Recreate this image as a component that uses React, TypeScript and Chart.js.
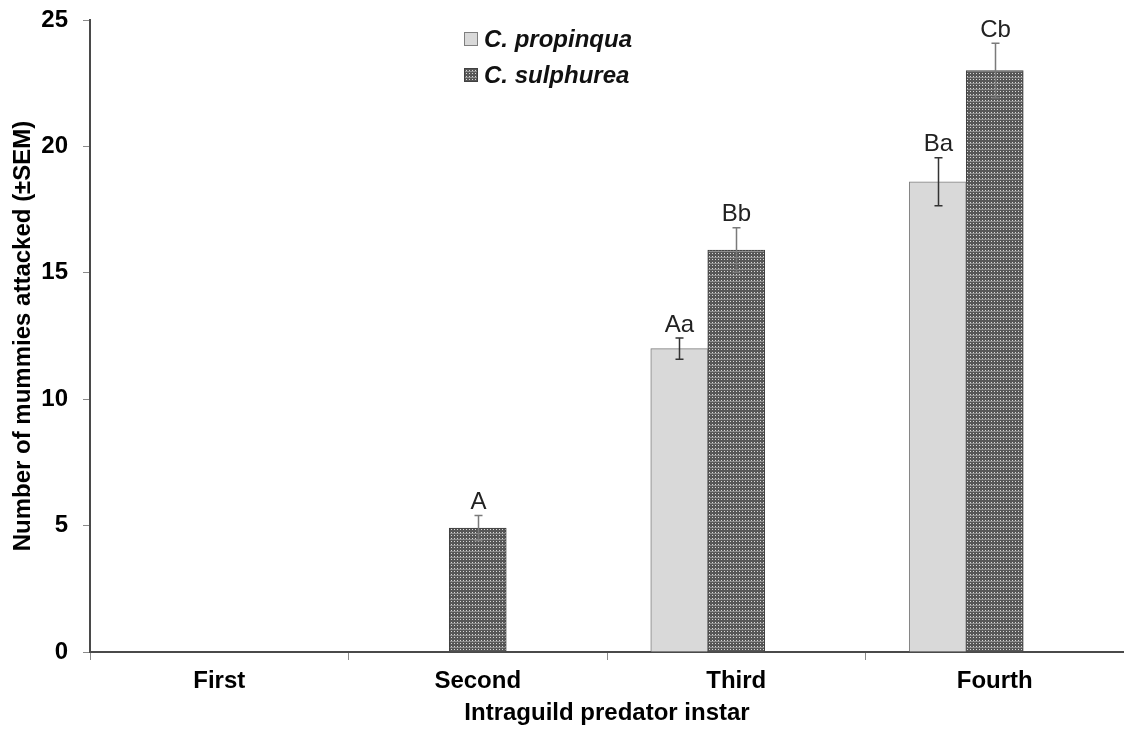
import React, { useEffect, useRef } from "react";
import { Chart, registerables } from "chart.js";

Chart.register(...registerables);

const categories = ["First", "Second", "Third", "Fourth"];
const propinquaValues = [null, null, 12.0, 18.6];
const propinquaSem = [null, null, 0.42, 0.95];
const propinquaLetters = ["", "", "Aa", "Ba"];
const sulphureaValues = [null, 4.9, 15.9, 23.0];
const sulphureaSem = [null, 0.5, 0.88, 1.08];
const sulphureaLetters = ["", "A", "Bb", "Cb"];
const emptyValues = [null, null, null, null];
const yTicks = [0, 5, 10, 15, 20, 25];

const FONT = '"Liberation Sans", Arial, sans-serif';

function makePattern(): CanvasPattern | string {
  const c = document.createElement("canvas");
  c.width = 6;
  c.height = 6;
  const g = c.getContext("2d");
  if (!g) return "#666";
  g.fillStyle = "#575757";
  g.fillRect(0, 0, 6, 6);
  g.fillStyle = "#d8d8d8";
  for (let x = 0; x < 6; x += 3) {
    for (let y = 0; y < 6; y += 3) {
      g.fillRect(x + 1, y + 1, 1, 1);
    }
  }
  g.fillStyle = "#8e8e8e";
  g.fillRect(0, 5, 6, 1);
  const p = g.createPattern(c, "repeat");
  return p || "#666";
}

const errorBarPlugin = {
  id: "errorBars",
  afterDatasetsDraw(chart: any) {
    const ctx = chart.ctx;
    const y = chart.scales.y;
    const sems = [propinquaSem, sulphureaSem];
    const letters = [propinquaLetters, sulphureaLetters];
    const vals = [propinquaValues, sulphureaValues];
    const colors = ["#333333", "#7a7a7a"];
    ctx.save();
    for (let d = 0; d < 2; d++) {
      const meta = chart.getDatasetMeta(d);
      meta.data.forEach((bar: any, i: number) => {
        const v = vals[d][i];
        const s = sems[d][i];
        if (v == null || s == null) return;
        const x = Math.round(bar.x) + 0.5;
        const top = y.getPixelForValue(v + s);
        const bot = y.getPixelForValue(v - s);
        ctx.strokeStyle = colors[d];
        ctx.lineWidth = 1.5;
        ctx.beginPath();
        ctx.moveTo(x, top);
        ctx.lineTo(x, bot);
        ctx.moveTo(x - 4, top);
        ctx.lineTo(x + 4, top);
        ctx.moveTo(x - 4, bot);
        ctx.lineTo(x + 4, bot);
        ctx.stroke();
        ctx.fillStyle = "#222";
        ctx.font = `24px ${FONT}`;
        ctx.textAlign = "center";
        ctx.textBaseline = "bottom";
        ctx.fillText(letters[d][i], x, top - 1);
      });
    }
    // legend
    const items = [
      { label: "C. propinqua", fill: "#d9d9d9", stroke: "#7f7f7f", y: 39 },
      { label: "C. sulphurea", fill: chart.data.datasets[1].backgroundColor, stroke: "#404040", y: 75 },
    ];
    items.forEach((it) => {
      ctx.fillStyle = it.fill;
      ctx.fillRect(464, it.y - 7, 14, 14);
      ctx.strokeStyle = it.stroke;
      ctx.lineWidth = 1;
      ctx.strokeRect(464.5, it.y - 6.5, 13, 13);
      ctx.fillStyle = "#111";
      ctx.font = `italic bold 24px ${FONT}`;
      ctx.textAlign = "left";
      ctx.textBaseline = "middle";
      ctx.fillText(it.label, 484, it.y + 1);
    });
    ctx.restore();
  },
};

export default function App() {
  const ref = useRef<HTMLCanvasElement | null>(null);
  useEffect(() => {
    if (!ref.current) return;
    const pattern = makePattern();
    const chart = new Chart(ref.current, {
      type: "bar",
      data: {
        labels: categories,
        datasets: [
          {
            label: "C. propinqua",
            data: propinquaValues as any,
            backgroundColor: "#d9d9d9",
            borderColor: "#7f7f7f",
            borderWidth: 1,
            barThickness: 57,
          } as any,
          {
            label: "C. sulphurea",
            data: sulphureaValues as any,
            backgroundColor: pattern as any,
            borderColor: "#404040",
            borderWidth: 1,
            barThickness: 57,
          } as any,
          {
            label: "",
            data: emptyValues as any,
            backgroundColor: "rgba(0,0,0,0)",
            borderWidth: 0,
            barThickness: 57,
          } as any,
        ],
      },
      options: {
        responsive: false,
        animation: false,
        layout: { padding: { top: 20, right: 0, left: 0, bottom: 0 } },
        plugins: {
          legend: { display: false },
          tooltip: { enabled: false },
        },
        scales: {
          x: {
            offset: true,
            grid: { offset: true, drawOnChartArea: false, color: "#8a8a8a", tickLength: 8 },
            border: { color: "#4a4a4a", width: 2 },
            ticks: { color: "#000", font: { family: FONT, size: 24, weight: "bold" }, padding: 7 },
            title: {
              display: true,
              text: "Intraguild predator instar",
              color: "#000",
              font: { family: FONT, size: 24, weight: "bold" },
              padding: { top: 0, bottom: 7 },
            },
            afterFit: (s: any) => {
              s.height = 83;
              s.paddingLeft = 0;
              s.paddingRight = 0;
            },
          },
          y: {
            min: 0,
            max: 25,
            afterBuildTicks: (s: any) => {
              s.ticks = yTicks.map((v) => ({ value: v }));
            },
            grid: { drawOnChartArea: false, color: "#8a8a8a", tickLength: 7 },
            border: { color: "#4a4a4a", width: 2 },
            ticks: { color: "#000", font: { family: FONT, size: 24, weight: "bold" }, padding: 15 },
            title: {
              display: true,
              text: "Number of mummies attacked (±SEM)",
              color: "#000",
              font: { family: FONT, size: 24, weight: "bold" },
              padding: { top: 9, bottom: 0 },
            },
            afterFit: (s: any) => {
              s.width = 90;
              s.paddingTop = 0;
              s.paddingBottom = 0;
            },
          },
        },
      },
      plugins: [errorBarPlugin],
    });
    return () => chart.destroy();
  }, []);
  return (
    <div style={{ position: "fixed", left: 0, top: 0, width: 1124, height: 735, background: "#fff" }}>
      <canvas ref={ref} width={1124} height={735} style={{ width: 1124, height: 735 }} />
    </div>
  );
}
